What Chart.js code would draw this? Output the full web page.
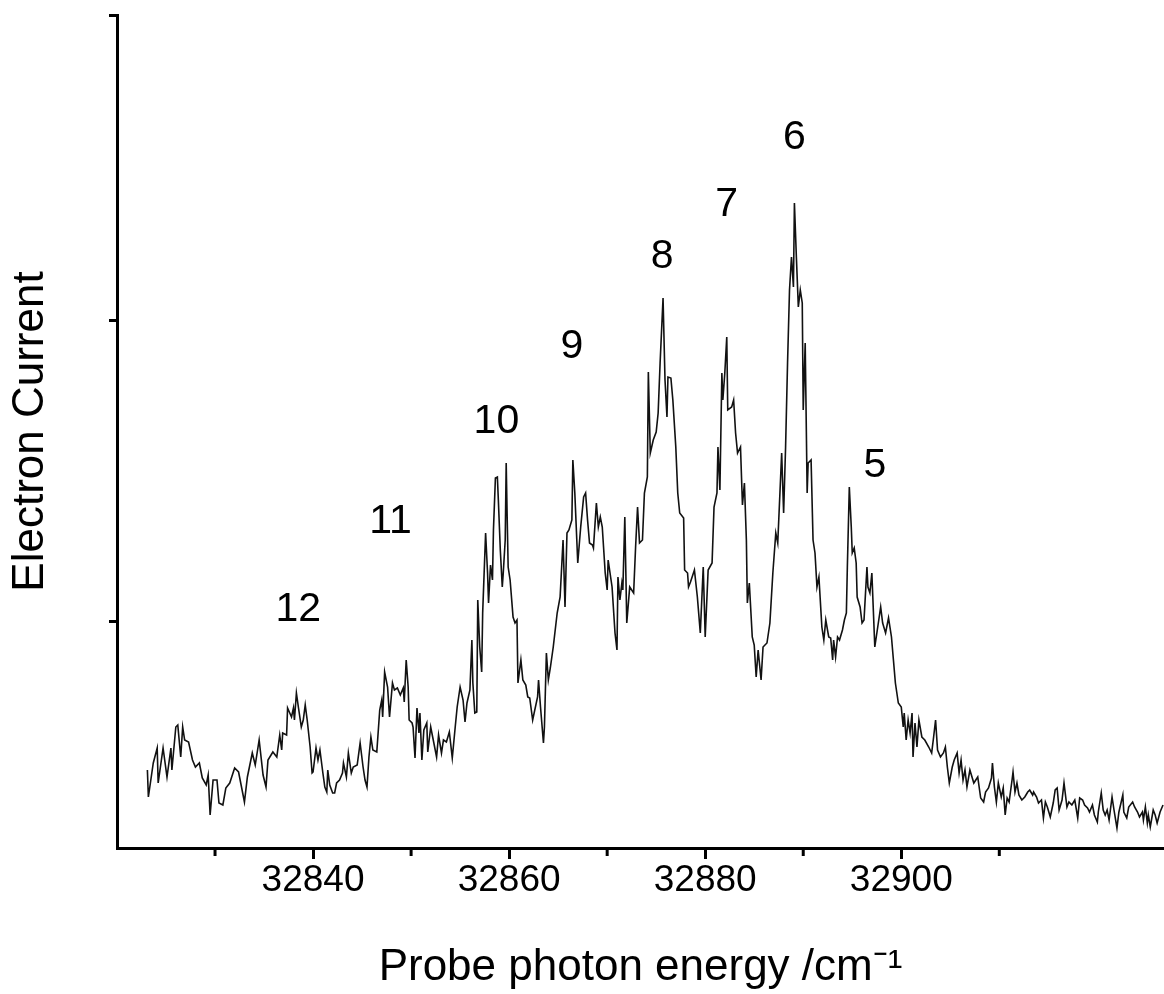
<!DOCTYPE html>
<html lang="en">
<head>
    <meta charset="UTF-8">
    <title>Electron current spectrum</title>
    <script src="https://cdn.jsdelivr.net/npm/chart.js"></script>
    <style>
        body { margin: 0; background: #fff; }
        .chart-container { width: 1164px; height: 994px; }
    </style>
</head>
<body>

    <div class="chart-container">
        <canvas id="spectrumChart" width="1164" height="994"></canvas>
    </div>

    <script>
        // probe photon energy (cm-1) and electron current (arb. units)
        const energy = [
            32823.1, 32823.2, 32823.7, 32824.1, 32824.2, 32824.7, 32825.1, 32825.5, 32825.6, 32826.0,
            32826.2, 32826.5, 32826.7, 32826.9, 32827.3, 32827.7, 32828.0, 32828.4, 32828.7, 32829.1,
            32829.3, 32829.5, 32829.8, 32830.2, 32830.4, 32830.8, 32831.1, 32831.5, 32832.0, 32832.4,
            32833.0, 32833.3, 32833.8, 32834.1, 32834.5, 32834.9, 32835.2, 32835.4, 32835.9, 32836.3,
            32836.6, 32836.8, 32836.9, 32837.3, 32837.4, 32837.8, 32838.0, 32838.1, 32838.3, 32838.5,
            32838.8, 32839.0, 32839.2, 32839.4, 32839.7, 32839.9, 32840.0, 32840.3, 32840.5, 32840.7,
            32841.0, 32841.2, 32841.4, 32841.5, 32841.7, 32842.0, 32842.2, 32842.4, 32842.7, 32843.0,
            32843.1, 32843.4, 32843.6, 32843.9, 32844.1, 32844.5, 32844.8, 32845.1, 32845.3, 32845.5,
            32845.7, 32845.9, 32846.1, 32846.5, 32846.8, 32847.0, 32847.1, 32847.3, 32847.6, 32847.8,
            32848.1, 32848.3, 32848.6, 32848.9, 32849.2, 32849.3, 32849.5, 32849.7, 32849.8, 32850.1,
            32850.2, 32850.4, 32850.6, 32850.8, 32850.9, 32851.1, 32851.3, 32851.6, 32851.7, 32852.0,
            32852.2, 32852.6, 32852.8, 32853.1, 32853.3, 32853.6, 32853.9, 32854.2, 32854.5, 32854.7,
            32855.0, 32855.3, 32855.5, 32855.7, 32856.0, 32856.2, 32856.3, 32856.5, 32856.7, 32856.8,
            32857.0, 32857.2, 32857.3, 32857.6, 32857.8, 32857.9, 32858.1, 32858.3, 32858.4, 32858.6,
            32858.8, 32858.9, 32859.1, 32859.3, 32859.4, 32859.6, 32859.7, 32859.8, 32859.9, 32860.1,
            32860.4, 32860.6, 32860.8, 32860.9, 32861.2, 32861.4, 32861.7, 32861.9, 32862.1, 32862.4,
            32862.9, 32863.0, 32863.2, 32863.5, 32863.6, 32863.8, 32864.0, 32864.2, 32864.5, 32864.9,
            32865.2, 32865.5, 32865.7, 32865.9, 32866.1, 32866.4, 32866.5, 32866.7, 32867.0, 32867.3,
            32867.6, 32867.8, 32868.0, 32868.2, 32868.5, 32868.6, 32868.9, 32869.1, 32869.3, 32869.5,
            32869.8, 32870.0, 32870.1, 32870.5, 32870.8, 32871.0, 32871.1, 32871.3, 32871.5, 32871.6,
            32871.8, 32872.0, 32872.3, 32872.7, 32872.9, 32873.1, 32873.3, 32873.6, 32873.8, 32874.1,
            32874.2, 32874.4, 32874.7, 32875.0, 32875.2, 32875.4, 32875.7, 32875.9, 32876.1, 32876.2,
            32876.5, 32876.7, 32877.0, 32877.2, 32877.4, 32877.8, 32877.9, 32878.2, 32878.3, 32878.5,
            32878.9, 32879.2, 32879.5, 32879.8, 32880.0, 32880.3, 32880.7, 32880.9, 32881.2, 32881.3,
            32881.5, 32881.7, 32881.8, 32882.0, 32882.2, 32882.3, 32882.7, 32882.9, 32883.1, 32883.3,
            32883.6, 32883.8, 32884.0, 32884.2, 32884.3, 32884.5, 32884.8, 32885.0, 32885.2, 32885.4,
            32885.7, 32885.9, 32886.3, 32886.6, 32886.9, 32887.2, 32887.4, 32887.8, 32888.0, 32888.2,
            32888.4, 32888.6, 32888.8, 32889.0, 32889.1, 32889.3, 32889.5, 32889.7, 32889.9, 32890.0,
            32890.2, 32890.4, 32890.5, 32890.8, 32891.0, 32891.2, 32891.4, 32891.6, 32891.9, 32892.1,
            32892.3, 32892.6, 32892.8, 32893.0, 32893.1, 32893.3, 32893.5, 32893.7, 32894.0, 32894.2,
            32894.4, 32894.5, 32894.7, 32894.9, 32895.0, 32895.2, 32895.4, 32895.5, 32895.8, 32896.0,
            32896.2, 32896.5, 32896.6, 32896.8, 32897.0, 32897.3, 32897.6, 32897.9, 32898.1, 32898.4,
            32898.7, 32899.0, 32899.2, 32899.4, 32899.7, 32900.0, 32900.2, 32900.3, 32900.5, 32900.7,
            32900.9, 32901.1, 32901.2, 32901.4, 32901.6, 32901.8, 32902.1, 32902.4, 32902.8, 32903.1,
            32903.3, 32903.5, 32903.7, 32904.0, 32904.3, 32904.5, 32904.7, 32904.9, 32905.2, 32905.4,
            32905.7, 32905.9, 32906.1, 32906.3, 32906.5, 32906.7, 32907.0, 32907.4, 32907.8, 32908.1,
            32908.4, 32908.6, 32908.9, 32909.2, 32909.3, 32909.5, 32909.7, 32909.9, 32910.2, 32910.4,
            32910.6, 32910.8, 32911.0, 32911.3, 32911.4, 32911.6, 32911.8, 32912.0, 32912.3, 32912.6,
            32912.9, 32913.1, 32913.4, 32913.5, 32913.8, 32914.0, 32914.3, 32914.5, 32914.7, 32914.9,
            32915.2, 32915.5, 32915.7, 32915.9, 32916.1, 32916.4, 32916.6, 32916.9, 32917.1, 32917.4,
            32917.7, 32918.0, 32918.2, 32918.5, 32918.7, 32919.0, 32919.2, 32919.5, 32919.7, 32920.0,
            32920.1, 32920.4, 32920.6, 32920.8, 32921.0, 32921.2, 32921.5, 32921.7, 32922.0, 32922.2,
            32922.6, 32922.7, 32923.0, 32923.2, 32923.6, 32923.8, 32924.1, 32924.3, 32924.6, 32924.7,
            32924.9, 32925.1, 32925.2, 32925.4, 32925.7, 32925.9, 32926.1, 32926.4, 32926.7
        ];
        const signal = [
            78, 51, 85, 100, 65, 100, 71, 100, 78, 121,
            123, 91, 121, 108, 106, 88, 81, 85, 70, 63,
            73, 33, 68, 68, 45, 43, 60, 65, 80, 76,
            46, 71, 95, 83, 108, 73, 61, 88, 96, 91,
            113, 98, 115, 113, 140, 131, 140, 128, 155, 141,
            121, 128, 143, 128, 101, 75, 76, 100, 88, 98,
            75, 61, 56, 78, 63, 55, 55, 65, 68, 75,
            85, 71, 95, 75, 81, 83, 105, 81, 68, 61,
            91, 111, 98, 96, 138, 148, 131, 176, 161, 131,
            165, 158, 160, 153, 160, 146, 188, 161, 128, 125,
            121, 90, 140, 115, 135, 88, 118, 125, 96, 121,
            111, 91, 113, 95, 108, 106, 116, 90, 121, 141,
            161, 148, 126, 145, 158, 208, 165, 135, 136, 248,
            201, 176, 235, 315, 275, 245, 283, 268, 318, 370,
            371, 348, 298, 261, 275, 308, 385, 331, 281, 268,
            231, 225, 228, 165, 188, 168, 163, 151, 150, 128,
            151, 168, 141, 105, 121, 195, 168, 180, 201, 235,
            251, 308, 241, 315, 318, 328, 388, 355, 285, 321,
            351, 355, 328, 305, 303, 300, 345, 321, 331, 321,
            275, 258, 288, 261, 215, 198, 271, 248, 265, 258,
            331, 225, 261, 255, 301, 341, 305, 308, 355, 371,
            476, 395, 408, 416, 435, 485, 550, 468, 431, 471,
            470, 448, 401, 355, 335, 330, 278, 275, 261, 266,
            278, 251, 215, 281, 211, 278, 285, 341, 355, 401,
            358, 475, 448, 475, 511, 438, 441, 448, 415, 395,
            401, 343, 365, 308, 245, 265, 211, 203, 171, 198,
            168, 201, 205, 225, 275, 315, 305, 395, 335, 401,
            485, 558, 591, 561, 645, 591, 541, 558, 545, 438,
            505, 355, 385, 388, 308, 295, 261, 271, 221, 208,
            228, 211, 210, 188, 208, 191, 211, 208, 218, 228,
            235, 281, 361, 321, 295, 300, 285, 251, 241, 225,
            228, 281, 261, 255, 275, 201, 221, 241, 225, 215,
            230, 211, 188, 165, 145, 141, 121, 135, 108, 128,
            115, 135, 91, 125, 101, 128, 111, 108, 101, 95,
            111, 128, 98, 91, 95, 101, 81, 65, 81, 88,
            95, 75, 88, 68, 78, 61, 78, 65, 71, 50,
            46, 56, 60, 70, 85, 61, 46, 65, 51, 60,
            33, 50, 46, 68, 76, 56, 65, 53, 48, 51,
            56, 58, 53, 56, 51, 45, 48, 30, 46, 41,
            31, 45, 58, 60, 38, 48, 65, 41, 46, 43,
            48, 30, 50, 48, 43, 40, 36, 43, 33, 26,
            36, 55, 38, 33, 38, 28, 51, 38, 20, 36,
            53, 36, 30, 41, 46, 41, 36, 31, 36, 28,
            41, 25, 33, 21, 38, 33, 25, 36, 43
        ];

        // vibrational band labels above the peaks
        const peakNames = ["12", "11", "10", "9", "8", "7", "6", "5"];
        const peakLabelX = [32838.5, 32847.9, 32858.7, 32866.4, 32875.6, 32882.2, 32889.1, 32897.3];
        const peakLabelY = [238, 326, 426, 501, 591, 643, 710, 382];

        const xMajorTicks = [32840, 32860, 32880, 32900];
        const xMinorTicks = [32830, 32850, 32870, 32890, 32910];
        const yTicks = [227, 528, 833];

        const FONT = "Arial, 'Liberation Sans', sans-serif";

        const minorTicks = {
            id: 'minorTicks',
            afterDraw(chart) {
                const ctx = chart.ctx;
                const x = chart.scales.x;
                ctx.save();
                ctx.strokeStyle = '#000';
                ctx.lineWidth = 3;
                xMinorTicks.forEach(v => {
                    const px = x.getPixelForValue(v);
                    ctx.beginPath();
                    ctx.moveTo(px, x.top);
                    ctx.lineTo(px, x.top + 8);
                    ctx.stroke();
                });
                ctx.restore();
            }
        };

        const peakLabels = {
            id: 'peakLabels',
            afterDatasetsDraw(chart) {
                const ctx = chart.ctx;
                const { x, y } = chart.scales;
                ctx.save();
                ctx.font = "41px " + FONT;
                ctx.fillStyle = '#000';
                ctx.textAlign = 'center';
                ctx.textBaseline = 'middle';
                peakNames.forEach((name, i) => {
                    ctx.fillText(name, x.getPixelForValue(peakLabelX[i]), y.getPixelForValue(peakLabelY[i]));
                });
                ctx.restore();
            }
        };

        const ctx = document.getElementById('spectrumChart').getContext('2d');
        const spectrumChart = new Chart(ctx, {
            type: 'line',
            data: {
                datasets: [{
                    data: energy.map((e, i) => ({ x: e, y: signal[i] })),
                    borderColor: '#111',
                    borderWidth: 1.6,
                    pointRadius: 0,
                    tension: 0,
                    fill: false
                }]
            },
            options: {
                responsive: false,
                animation: false,
                layout: { padding: { top: 15, right: 0, bottom: 0, left: 0 } },
                plugins: { legend: { display: false }, tooltip: { enabled: false } },
                scales: {
                    x: {
                        type: 'linear',
                        min: 32820,
                        max: 32926.8,
                        afterBuildTicks: s => { s.ticks = xMajorTicks.map(v => ({ value: v })); },
                        afterFit: s => { s.height = 146; },
                        border: { display: true, color: '#000', width: 3 },
                        grid: { display: true, drawOnChartArea: false, drawTicks: true, tickLength: 11, tickWidth: 3, tickColor: '#000' },
                        ticks: {
                            color: '#000', font: { family: FONT, size: 37 }, padding: 0,
                            maxRotation: 0, autoSkip: false, callback: v => String(v)
                        },
                        title: {
                            display: true, text: 'Probe photon energy /cm\u207B\u00B9', color: '#000',
                            font: { family: FONT, size: 44 }, padding: { top: 0, bottom: 0 }
                        }
                    },
                    y: {
                        min: 0,
                        max: 833,
                        afterBuildTicks: s => { s.ticks = yTicks.map(v => ({ value: v })); },
                        afterFit: s => { s.width = 117; },
                        border: { display: true, color: '#000', width: 3 },
                        grid: { display: true, drawOnChartArea: false, drawTicks: true, tickLength: 8, tickWidth: 3, tickColor: '#000' },
                        ticks: { display: false },
                        title: {
                            display: true, text: 'Electron Current', color: '#000',
                            font: { family: FONT, size: 44 }, padding: { top: 4, bottom: 0 }
                        }
                    }
                }
            },
            plugins: [minorTicks, peakLabels]
        });
    </script>

</body>
</html>
